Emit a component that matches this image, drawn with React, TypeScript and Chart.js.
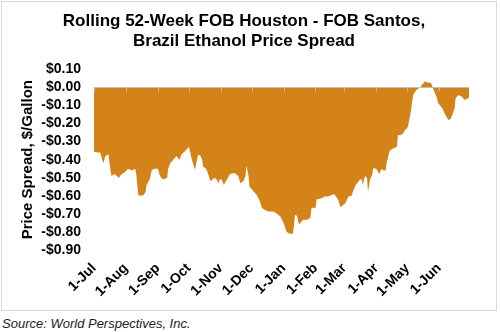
import React, { useEffect, useRef } from 'react';
import { Chart, registerables } from 'chart.js';

Chart.register(...registerables);

// Day offsets from 1-Jul and the spread ($/gallon) on that day
const days = [
  0, 3, 6, 7, 9, 11, 14, 16, 17, 20, 24, 27, 30, 33, 37, 40, 41, 43, 45, 48,
  50, 51, 54, 56, 58, 62, 64, 67, 71, 72, 74, 77, 80, 83, 85, 88, 92, 93, 95, 98,
  100, 101, 103, 105, 106, 108, 110, 113, 115, 117, 119, 121, 122, 124, 126, 129, 132, 135, 137, 140,
  142, 145, 147, 148, 150, 151, 155, 158, 161, 163, 166, 169, 174, 177, 181, 184, 187, 190, 193, 194,
  195, 197, 199, 201, 203, 207, 210, 211, 213, 215, 216, 218, 221, 224, 227, 231, 233, 235, 237, 239,
  240, 244, 247, 250, 252, 254, 257, 258, 260, 261, 263, 265, 266, 268, 270, 271, 274, 276, 277, 279,
  281, 283, 284, 286, 287, 291, 294, 295, 297, 299, 300, 302, 304, 305, 307, 308, 309, 310, 312, 313,
  315, 317, 318, 320, 321, 323, 325, 326, 328, 329, 331, 333, 334, 338, 341, 344, 346, 348, 350, 351,
  353, 355, 357, 359, 360, 363, 364,
];
const spread = [
  -0.355, -0.36, -0.36, -0.38, -0.42, -0.38, -0.37, -0.46, -0.49, -0.48, -0.50, -0.48, -0.47, -0.45, -0.46, -0.45, -0.48, -0.595, -0.60, -0.595,
  -0.58, -0.54, -0.51, -0.46, -0.45, -0.45, -0.49, -0.51, -0.50, -0.45, -0.42, -0.40, -0.38, -0.40, -0.37, -0.355, -0.33, -0.35, -0.40, -0.456,
  -0.40, -0.373, -0.375, -0.40, -0.44, -0.445, -0.466, -0.52, -0.51, -0.50, -0.51, -0.53, -0.51, -0.51, -0.54, -0.51, -0.48, -0.475, -0.475, -0.49,
  -0.53, -0.52, -0.49, -0.434, -0.49, -0.55, -0.576, -0.595, -0.63, -0.668, -0.678, -0.687, -0.687, -0.696, -0.715, -0.75, -0.80, -0.81, -0.81, -0.77,
  -0.705, -0.71, -0.76, -0.745, -0.733, -0.733, -0.72, -0.67, -0.665, -0.67, -0.62, -0.618, -0.613, -0.604, -0.604, -0.595, -0.59, -0.605, -0.62, -0.66,
  -0.66, -0.64, -0.604, -0.60, -0.567, -0.54, -0.52, -0.51, -0.51, -0.54, -0.49, -0.50, -0.576, -0.51, -0.484, -0.447, -0.45, -0.47, -0.48, -0.45,
  -0.46, -0.46, -0.42, -0.373, -0.35, -0.336, -0.33, -0.263, -0.265, -0.26, -0.255, -0.235, -0.226, -0.21, -0.152, -0.115, -0.07, -0.04, -0.023, -0.014,
  -0.005, 0, 0.014, 0.023, 0.032, 0.03, 0.023, 0.03, 0.014, -0.005, -0.032, -0.06, -0.087, -0.115, -0.152, -0.18, -0.175, -0.15, -0.115, -0.06,
  -0.045, -0.045, -0.05, -0.065, -0.07, -0.06, -0.055,
];

const monthDays = [0, 31, 62, 92, 123, 153, 184, 215, 243, 274, 304, 335];
const monthLabels = ['1-Jul', '1-Aug', '1-Sep', '1-Oct', '1-Nov', '1-Dec', '1-Jan', '1-Feb', '1-Mar', '1-Apr', '1-May', '1-Jun'];
const lastDay = 364;

const yMin = -0.9;
const yMax = 0.1;
const yStep = 0.1;

const titleLines = ['Rolling 52-Week FOB Houston - FOB Santos,', 'Brazil Ethanol Price Spread'];
const yTitle = 'Price Spread, $/Gallon';
const sourceText = 'Source: World Perspectives, Inc.';

const FILL = 'rgb(211,131,24)';
const FONT = '"Liberation Sans", Arial, Helvetica, sans-serif';

const fmtMoney = (v: number) => {
  if (Math.abs(v) < 1e-9) return '$0.00';
  return (v < 0 ? '-' : '') + '$' + Math.abs(v).toFixed(2);
};

const zeroAxis = {
  id: 'zeroAxis',
  afterDatasetsDraw(chart: any) {
    const { ctx, chartArea, scales } = chart;
    const x = scales.x;
    const y = scales.y;
    const y0 = Math.round(y.getPixelForValue(0)) + 0.5;
    ctx.save();
    ctx.strokeStyle = '#bfbfbf';
    ctx.lineWidth = 1;
    ctx.beginPath();
    ctx.moveTo(chartArea.left, y0);
    ctx.lineTo(chartArea.right, y0);
    monthDays.forEach((d) => {
      const px = Math.round(x.getPixelForValue(d)) + 0.5;
      ctx.moveTo(px, y0);
      ctx.lineTo(px, y0 + 4);
    });
    ctx.stroke();
    ctx.restore();
  },
};

export default function App() {
  const ref = useRef<HTMLCanvasElement>(null);

  useEffect(() => {
    const chart = new Chart(ref.current as HTMLCanvasElement, {
      type: 'line',
      data: {
        datasets: [
          {
            data: days.map((d, i) => ({ x: d, y: spread[i] })),
            fill: 'origin',
            backgroundColor: FILL,
            borderColor: FILL,
            borderWidth: 0,
            pointRadius: 0,
            tension: 0,
          },
        ],
      },
      options: {
        animation: false,
        responsive: false,
        maintainAspectRatio: false,
        layout: { padding: { left: 17, right: 27, top: 0, bottom: 0 } },
        plugins: {
          legend: { display: false },
          tooltip: { enabled: false },
          title: {
            display: true,
            text: titleLines,
            color: '#000',
            font: { family: FONT, size: 17, weight: 'bold', lineHeight: 1.18 },
            padding: { top: 9.5, bottom: 17.7 },
          },
        },
        scales: {
          x: {
            type: 'linear',
            min: 0,
            max: lastDay,
            grid: { display: false, drawTicks: false },
            border: { display: false },
            afterBuildTicks: (s: any) => {
              s.ticks = monthDays.map((v) => ({ value: v }));
            },
            afterFit: (s: any) => {
              s.height = 60;
            },
            ticks: {
              autoSkip: false,
              maxRotation: 45,
              minRotation: 45,
              padding: 10,
              color: '#000',
              font: { family: FONT, size: 14, weight: 'bold' },
              callback: (_v: any, i: number) => monthLabels[i] ?? '',
            },
          },
          y: {
            min: yMin,
            max: yMax,
            grid: { display: false, drawTicks: false },
            border: { display: false },
            afterFit: (s: any) => {
              s.width = 75;
            },
            ticks: {
              autoSkip: false,
              stepSize: yStep,
              padding: 13,
              color: '#000',
              font: { family: FONT, size: 14, weight: 'bold' },
              callback: (v: any) => fmtMoney(Number(v)),
            },
            title: {
              display: true,
              text: yTitle,
              color: '#000',
              font: { family: FONT, size: 15, weight: 'bold' },
              padding: { top: 0, bottom: 0 },
            },
          },
        },
      } as any,
      plugins: [zeroAxis],
    });
    return () => chart.destroy();
  }, []);

  return (
    <div style={{ position: 'fixed', left: 0, top: 0, width: 500, height: 332, background: '#fff' }}>
      <div
        style={{
          position: 'absolute',
          left: 1,
          top: 1,
          width: 494,
          height: 308,
          border: '1px solid #d9d9d9',
        }}
      >
        <canvas ref={ref} width={494} height={308} style={{ display: 'block' }} />
      </div>
      <div
        style={{
          position: 'absolute',
          left: 2,
          top: 316,
          fontFamily: FONT,
          fontStyle: 'italic',
          fontSize: 13,
          lineHeight: '15px',
          color: '#222',
          whiteSpace: 'nowrap',
        }}
      >
        {sourceText}
      </div>
    </div>
  );
}
